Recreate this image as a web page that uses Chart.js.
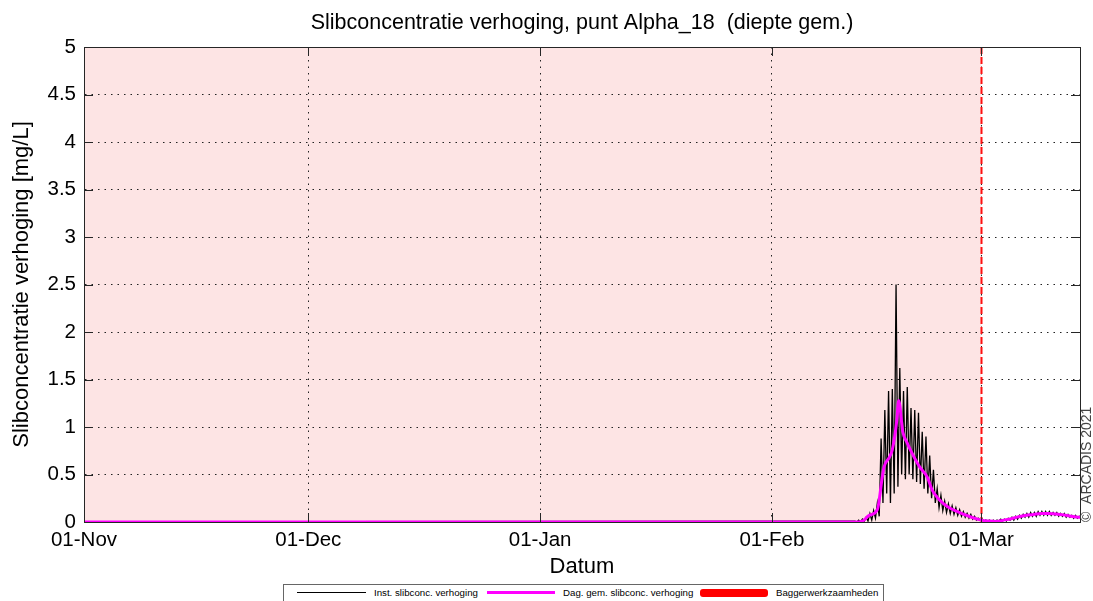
<!DOCTYPE html>
<html>
<head>
<meta charset="utf-8">
<title>Slibconcentratie verhoging</title>
<script src="https://cdn.jsdelivr.net/npm/chart.js@4.4.1/dist/chart.umd.min.js"></script>
<style>
  body { margin: 0; background: #fff; }
  #wrap { position: relative; width: 1093px; height: 601px; overflow: hidden; }
  #legend {
    position: absolute; left: 283px; top: 584px; width: 601px; height: 26px;
    border: 1px solid #666; box-sizing: border-box; background: #fff;
    font: 9.7px "Liberation Sans", Arial, sans-serif; color: #000;
  }
  #legend .ln { position: absolute; }
  #legend .tx { position: absolute; top: 2px; white-space: nowrap; }
</style>
</head>
<body>
<div id="wrap">
  <canvas id="slibChart" width="1093" height="601"></canvas>
  <div id="legend">
    <div class="ln" style="left:13px; top:7px; width:69px; height:1px; background:#000;"></div>
    <div class="tx" style="left:90px;">Inst. slibconc. verhoging</div>
    <div class="ln" style="left:203px; top:6px; width:68px; height:3px; background:#ff00ff;"></div>
    <div class="tx" style="left:279px;">Dag. gem. slibconc. verhoging</div>
    <div class="ln" style="left:416px; top:4px; width:68px; height:8px; background:#ff0000; border-radius:3px;"></div>
    <div class="tx" style="left:492px;">Baggerwerkzaamheden</div>
  </div>
</div>
<script>
// x axis = days since 01-Nov (2020)
const tickDays = [0, 30, 61, 92, 120];
const tickLabels = ['01-Nov', '01-Dec', '01-Jan', '01-Feb', '01-Mar'];
const xMax = 133.2;

// dredging period (pink band)
const dredgeFrom = 0;
const dredgeTo = 120;

// daily averaged concentration increase [mg/L]
const avgDays = [0, 103.0, 104.1, 105.0, 106.1, 106.7, 107.0, 107.7, 108.1, 108.7, 108.95,
  109.5, 110.1, 110.7, 111.75, 112.8, 113.4, 114.2, 115.5, 116.8, 118.7, 120.0,
  121, 122, 123, 124, 125, 126, 127, 128, 129, 130, 131, 132, 133, 133.2];
const avgValues = [0, 0, 0.01, 0.07, 0.13, 0.44, 0.58, 0.68, 0.76, 1.07, 1.28,
  0.95, 0.83, 0.73, 0.58, 0.47, 0.34, 0.25, 0.16, 0.11, 0.05, 0.02,
  0.01, 0.005, 0.02, 0.035, 0.055, 0.07, 0.08, 0.09, 0.09, 0.085, 0.075, 0.06, 0.05, 0.05];

// instantaneous concentration increase, sampled every 6 h (high / low water)
const instStart = 103.1;
const instStep = 0.25;
const instValues = [
  0.01, 0, 0.02, 0, 0.03, 0.01, 0.05, 0.01,
  0.09, 0.02, 0.12, 0.04, 0.2, 0.06, 0.88, 0.2,
  1.18, 0.3, 1.38, 0.2, 1.4, 0.3, 2.5, 0.37,
  1.62, 0.5, 1.38, 0.45, 1.42, 0.5, 1.2, 0.45,
  1.18, 0.42, 1.15, 0.4, 0.95, 0.35, 0.9, 0.3,
  0.7, 0.25, 0.55, 0.2, 0.35, 0.15, 0.28, 0.12,
  0.22, 0.1, 0.19, 0.09, 0.17, 0.08, 0.15, 0.07,
  0.13, 0.06, 0.11, 0.05, 0.09, 0.04, 0.08, 0.03,
  0.06, 0.02, 0.04, 0.02, 0.03, 0.01, 0.02, 0.01,
  0.02, 0, 0.02, 0, 0.02, 0.01, 0.03, 0.01,
  0.03, 0.01, 0.04, 0.02, 0.05, 0.02, 0.06, 0.03,
  0.07, 0.04, 0.08, 0.05, 0.09, 0.05, 0.1, 0.06,
  0.1, 0.06, 0.11, 0.07, 0.11, 0.07, 0.11, 0.07,
  0.11, 0.07, 0.1, 0.07, 0.1, 0.06, 0.09, 0.06,
  0.09, 0.05, 0.08, 0.05, 0.07, 0.04, 0.07, 0.04,
  0.06, 0.04
];

const FONT = '"Liberation Sans", Arial, sans-serif';

const instData = [{ x: 0, y: 0 }].concat(
  instValues.map((v, i) => ({ x: instStart + i * instStep, y: v }))
);
const avgData = avgDays.map((d, i) => ({ x: d, y: avgValues[i] }));

// pink band, red line, frame, inner ticks, title and copyright
const decorations = {
  id: 'decorations',
  beforeDraw(chart) {
    const { ctx, chartArea: a, scales: { x } } = chart;
    ctx.save();
    ctx.fillStyle = 'rgb(253,228,228)';
    const x0 = x.getPixelForValue(dredgeFrom);
    const x1 = x.getPixelForValue(dredgeTo);
    ctx.fillRect(x0, a.top, x1 - x0, a.bottom - a.top);
    ctx.restore();
  },
  beforeDatasetsDraw(chart) {
    const { ctx, chartArea: a, scales: { x } } = chart;
    const xp = Math.round(x.getPixelForValue(dredgeTo)) + 0.5;
    ctx.save();
    ctx.strokeStyle = '#ff1010';
    ctx.lineWidth = 2;
    ctx.setLineDash([7, 3]);
    ctx.beginPath();
    ctx.moveTo(xp, a.top);
    ctx.lineTo(xp, a.bottom);
    ctx.stroke();
    ctx.restore();
  },
  afterDraw(chart) {
    const { ctx, chartArea: a, scales: { x, y } } = chart;
    ctx.save();
    ctx.strokeStyle = '#262626';
    ctx.lineWidth = 1;
    ctx.strokeRect(Math.round(a.left) + 0.5, Math.round(a.top) + 0.5,
      Math.round(a.right - a.left), Math.round(a.bottom - a.top));
    ctx.beginPath();
    y.ticks.forEach(t => {
      const yp = Math.round(y.getPixelForValue(t.value)) + 0.5;
      ctx.moveTo(a.left, yp); ctx.lineTo(a.left + 9, yp);
      ctx.moveTo(a.right, yp); ctx.lineTo(a.right - 9, yp);
    });
    tickDays.forEach(d => {
      const xp = Math.round(x.getPixelForValue(d)) + 0.5;
      ctx.moveTo(xp, a.bottom); ctx.lineTo(xp, a.bottom - 9);
      ctx.moveTo(xp, a.top); ctx.lineTo(xp, a.top + 9);
    });
    ctx.stroke();

    ctx.fillStyle = '#000';
    ctx.font = '21.5px ' + FONT;
    ctx.textAlign = 'center';
    ctx.textBaseline = 'middle';
    ctx.fillText('Slibconcentratie verhoging, punt Alpha_18  (diepte gem.)', (a.left + a.right) / 2, 23);

    ctx.translate(1087, a.bottom);
    ctx.rotate(-Math.PI / 2);
    ctx.font = '14px ' + FONT;
    ctx.fillStyle = '#444';
    ctx.textAlign = 'left';
    ctx.fillText('\u00A9  ARCADIS 2021', 0, 0);
    ctx.restore();
  }
};

new Chart(document.getElementById('slibChart').getContext('2d'), {
  type: 'line',
  data: {
    datasets: [
      {
        label: 'Dag. gem. slibconc. verhoging',
        data: avgData,
        borderColor: '#ff00ff',
        borderWidth: 3,
        pointRadius: 0,
        cubicInterpolationMode: 'monotone',
        order: 1
      },
      {
        label: 'Inst. slibconc. verhoging',
        data: instData,
        borderColor: '#000000',
        borderWidth: 1.3,
        pointRadius: 0,
        tension: 0,
        order: 2
      }
    ]
  },
  options: {
    responsive: false,
    animation: false,
    devicePixelRatio: 1,
    layout: { padding: { top: 47, right: 13, left: 0, bottom: 0 } },
    plugins: {
      legend: { display: false },
      tooltip: { enabled: false },
      title: { display: false }
    },
    scales: {
      x: {
        type: 'linear',
        min: 0,
        max: xMax,
        afterBuildTicks: axis => { axis.ticks = tickDays.map(v => ({ value: v })); },
        afterFit: scale => { scale.height = 79; },
        ticks: {
          autoSkip: false,
          maxRotation: 0,
          padding: 6,
          color: '#000',
          font: { family: FONT, size: 20.5 },
          callback: (value, i) => tickLabels[i]
        },
        grid: { color: '#222', lineWidth: 1, drawTicks: false },
        border: { display: true, color: '#262626', dash: [1.5, 5] },
        title: {
          display: true,
          text: 'Datum',
          color: '#000',
          font: { family: FONT, size: 22 },
          padding: { top: 0, bottom: 21 }
        }
      },
      y: {
        min: 0,
        max: 5,
        afterFit: scale => { scale.width = 84; },
        ticks: {
          stepSize: 0.5,
          padding: 8,
          color: '#000',
          font: { family: FONT, size: 20.5 },
          callback: v => String(v)
        },
        grid: { color: '#222', lineWidth: 1, drawTicks: false },
        border: { display: true, color: '#262626', dash: [1.5, 5] },
        title: {
          display: true,
          text: 'Slibconcentratie verhoging [mg/L]',
          color: '#000',
          font: { family: FONT, size: 22 },
          padding: { top: 9, bottom: 0 }
        }
      }
    }
  },
  plugins: [decorations]
});
</script>
</body>
</html>
